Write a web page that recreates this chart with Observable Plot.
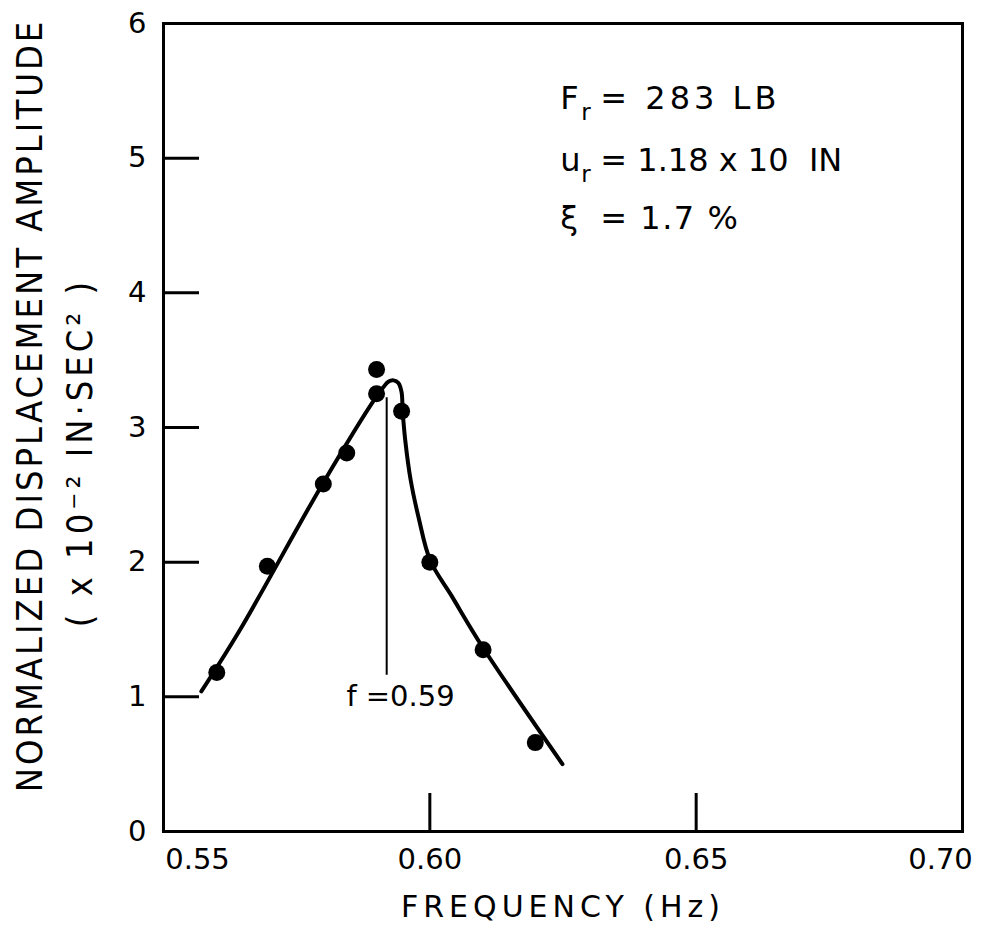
<!DOCTYPE html>
<html><head><meta charset="utf-8">
<script src="https://cdn.jsdelivr.net/npm/d3@7"></script>
<script src="https://cdn.jsdelivr.net/npm/@observablehq/plot@0.6"></script>
<style>html,body{margin:0;padding:0;background:#fff} svg{display:block}</style>
</head><body><div id="chart"></div>
<script>
// measured points
const measuredFreq = [0.560, 0.5695, 0.580, 0.5844, 0.590, 0.590, 0.5947, 0.600, 0.610, 0.6198];
const measuredAmp  = [1.18, 1.97, 2.58, 2.81, 3.43, 3.25, 3.12, 2.00, 1.35, 0.66];
// fitted response curve (hand-drawn in original)
const curveFreq = [0.5571, 0.5644, 0.5797, 0.5898, 0.5913, 0.5922, 0.5932, 0.5941, 0.5947, 0.5949, 0.5954, 0.5964, 0.5979, 0.6001, 0.6040, 0.6099, 0.6249];
const curveAmp  = [1.04, 1.50, 2.57, 3.22, 3.30, 3.34, 3.35, 3.33, 3.26, 3.12, 2.90, 2.61, 2.33, 2.01, 1.755, 1.37, 0.50];
// resonance marker
const resonanceFreq = [0.5919];
const resonanceSpan = [1.16, 3.22];
const resonanceLabel = ["f =0.59"];
const resonanceLabelPos = [0.5945, 1.0];
// axes
const xTicks = [0.55, 0.60, 0.65, 0.70];
const yTicks = [0, 1, 2, 3, 4, 5, 6];
const xTitle = "FREQUENCY (Hz)";
const yTitle1 = "NORMALIZED DISPLACEMENT AMPLITUDE";
const yTitle2 = "( x 10\u207B\u00B2 IN\u00B7SEC\u00B2 )";
// parameter annotations
const annoMain = ["F", "u", "\u03BE"];
const annoSub = ["r", "r", ""];
const annoRest = ["= 283 LB", "= 1.18 x 10  IN", "= 1.7 %"];
const annoRow = [5.44, 4.98, 4.55];

const pts = measuredFreq.map((f, i) => ({f, a: measuredAmp[i]}));
const curve = curveFreq.map((f, i) => ({f, a: curveAmp[i]}));
const anno = annoMain.map((m, i) => ({m, s: annoSub[i], r: annoRest[i], y: annoRow[i]}));

const font = "'DejaVu Sans', sans-serif";
const condensed = "'DejaVu Sans Condensed', 'Liberation Sans Narrow', sans-serif";
const chart = Plot.plot({
  width: 1001, height: 937,
  marginLeft: 163, marginRight: 39, marginTop: 23, marginBottom: 106,
  style: {fontFamily: font, background: "#fff", color: "#000"},
  x: {domain: [0.55, 0.70]},
  y: {domain: [0, 6]},
  marks: [
    Plot.frame({stroke: "#000", strokeWidth: 3}),
    Plot.axisY(yTicks, {tickSize: -36, tickPadding: 53, strokeWidth: 3, fontSize: 29, tickFormat: d => String(d), label: null}),
    Plot.axisX(xTicks.slice(1, 3), {tickSize: -38, tickPadding: 55, strokeWidth: 3, fontSize: 29, tickFormat: d => d.toFixed(2), label: null}),
    Plot.axisX(xTicks.slice(0, 1), {tickSize: 0, tickPadding: 17, dx: 34, fontSize: 29, tickFormat: d => d.toFixed(2), label: null}),
    Plot.axisX(xTicks.slice(3), {tickSize: 0, tickPadding: 17, dx: -22, fontSize: 29, tickFormat: d => d.toFixed(2), label: null}),
    Plot.text([xTitle], {frameAnchor: "bottom", textAnchor: "middle", dy: 76, fontSize: 30, lineAnchor: "middle"}),
    Plot.text([yTitle1], {frameAnchor: "left", textAnchor: "middle", dx: -133, dy: -22, rotate: -90, fontSize: 36, fontFamily: condensed, lineAnchor: "middle"}),
    Plot.text([yTitle2], {frameAnchor: "left", textAnchor: "middle", dx: -83, dy: 25, rotate: -90, fontSize: 36, fontFamily: condensed, lineAnchor: "middle"}),
    Plot.line(curve, {x: "f", y: "a", curve: "catmull-rom", stroke: "#000", strokeWidth: 4}),
    Plot.ruleX(resonanceFreq, {y1: resonanceSpan[0], y2: resonanceSpan[1], stroke: "#000", strokeWidth: 2}),
    Plot.dot(pts, {x: "f", y: "a", r: 8.5, fill: "#000", stroke: null}),
    Plot.text(resonanceLabel, {x: resonanceLabelPos[0], y: resonanceLabelPos[1], fontSize: 29, lineAnchor: "middle"}),
    Plot.text(anno, {x: 0.6245, y: "y", text: "m", textAnchor: "start", lineAnchor: "middle", fontSize: 32}),
    Plot.text(anno, {x: 0.6245, y: "y", text: "s", textAnchor: "start", lineAnchor: "middle", fontSize: 23, dx: 21, dy: 14}),
    Plot.text(anno, {x: 0.6245, y: "y", text: "r", textAnchor: "start", lineAnchor: "middle", fontSize: 32, dx: 40})
  ]
});
// letter spacing of the hand-lettered texts
const spacing = new Map([[xTitle, 5], [yTitle1, 3], [yTitle2, 4], [annoRest[0], 4], [annoRest[1], 0], [annoRest[2], 1.5]]);
d3.select(chart).selectAll("text").each(function() {
  const s = spacing.get(this.textContent);
  if (s) this.setAttribute("letter-spacing", s);
});
document.getElementById("chart").append(chart);
</script></body></html>
